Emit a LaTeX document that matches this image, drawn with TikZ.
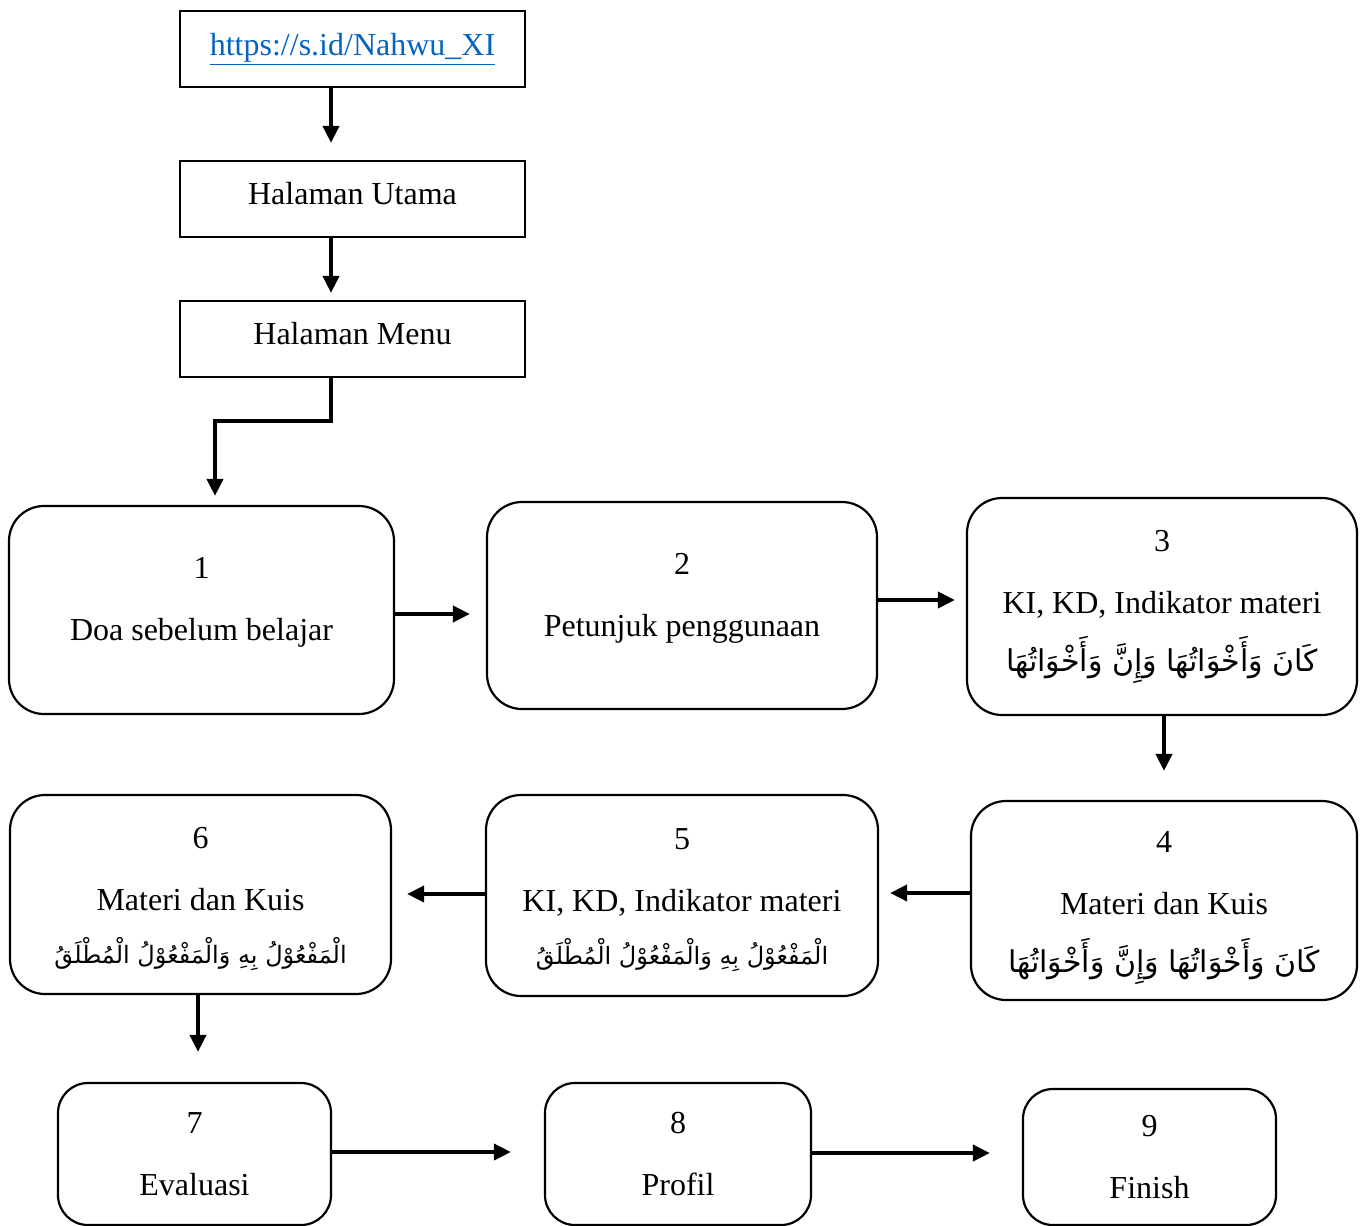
\documentclass[tikz,border=0pt]{standalone}
\usepackage{fontspec}
\setmainfont{Liberation Serif}
\newfontfamily\arabicfont[Script=Arabic]{DejaVu Sans}
\TeXXeTstate=1
\usetikzlibrary{arrows.meta}
\definecolor{linkblue}{HTML}{0563C1}
\newcommand{\arA}[1]{{\arabicfont\fontsize{30}{60}\selectfont\beginR #1\endR}}
\newcommand{\arB}[1]{{\arabicfont\fontsize{24}{60}\selectfont\beginR #1\endR}}
\tikzset{
  sqbox/.style={draw, line width=2.2pt, minimum width=345pt, minimum height=76pt, inner sep=0pt, font=\fontsize{32}{38}\selectfont},
  rbox/.style={draw, line width=2.2pt, rounded corners=35pt, inner sep=0pt, align=center, font=\fontsize{32}{62}\selectfont},
  arr/.style={line width=3.8pt, -{Triangle[length=17pt,width=16pt]}},
}
\begin{document}
\begin{tikzpicture}[x=1pt,y=1pt]
\useasboundingbox (0,0) rectangle (1366,-1226);
% top square boxes
\node[sqbox] (url) at (352.5,-49) {\raisebox{9pt}{\textcolor{linkblue}{\underline{https://s.id/Nahwu\_XI}}}};
\node[sqbox] (utama) at (352.5,-199) {\raisebox{11pt}{Halaman Utama}};
\node[sqbox] (menu) at (352.5,-339) {\raisebox{11pt}{Halaman Menu}};
% rounded boxes
\node[rbox, minimum width=385pt, minimum height=208pt] (b1) at (201.5,-610) {1\\Doa sebelum belajar\\[-40pt]\mbox{}};
\node[rbox, minimum width=390pt, minimum height=207pt] (b2) at (682,-605.5) {2\\Petunjuk penggunaan\\[-40pt]\mbox{}};
\node[rbox, minimum width=390pt, minimum height=217pt] (b3) at (1162,-606.5) {3\\KI, KD, Indikator materi\\[-4pt]\arA{كَانَ وَأَخْوَاتُهَا وَإِنَّ وَأَخْوَاتُهَا}};
\node[rbox, minimum width=386pt, minimum height=199pt] (b4) at (1164,-900.5) {\rule{0pt}{36pt}4\\Materi dan Kuis\\[-4pt]\arA{كَانَ وَأَخْوَاتُهَا وَإِنَّ وَأَخْوَاتُهَا}};
\node[rbox, minimum width=392pt, minimum height=201pt] (b5) at (682,-895.5) {\rule{0pt}{30pt}5\\KI, KD, Indikator materi\\[-9pt]\arB{الْمَفْعُوْلُ بِهِ وَالْمَفْعُوْلُ الْمُطْلَقُ}};
\node[rbox, minimum width=381pt, minimum height=199pt] (b6) at (200.5,-894.5) {\rule{0pt}{31pt}6\\Materi dan Kuis\\[-9pt]\arB{الْمَفْعُوْلُ بِهِ وَالْمَفْعُوْلُ الْمُطْلَقُ}};
\node[rbox, rounded corners=30pt, minimum width=273pt, minimum height=142pt] (b7) at (194.5,-1154) {7\\Evaluasi};
\node[rbox, rounded corners=30pt, minimum width=266pt, minimum height=142pt] (b8) at (678,-1154) {8\\Profil};
\node[rbox, rounded corners=30pt, minimum width=253pt, minimum height=136pt] (b9) at (1149.5,-1157) {9\\Finish};
% connectors
\draw[arr, shorten >=17pt] (url.south -| 331,0) -- (utama.north -| 331,0);
\draw[arr, shorten >=7pt] (utama.south -| 331,0) -- (menu.north -| 331,0);
\coordinate (m1) at (331,-421);
\coordinate (m2) at (215,-421);
\draw[arr, shorten >=9pt] (menu.south -| m1) -- (m1) -- (m2) -- (b1.north -| m2);
\draw[arr, shorten >=16pt] (b1.east |- 0,-614) -- (b2.west |- 0,-614);
\draw[arr, shorten >=11pt] (b2.east |- 0,-600) -- (b3.west |- 0,-600);
\draw[arr, shorten >=29pt] (b3.south -| 1164,0) -- (b4.north -| 1164,0);
\draw[arr, shorten >=11pt] (b4.west |- 0,-893) -- (b5.east |- 0,-893);
\draw[arr, shorten >=15pt] (b5.west |- 0,-894) -- (b6.east |- 0,-894);
\draw[arr, shorten >=30pt] (b6.south -| 198,0) -- (b7.north -| 198,0);
\draw[arr, shorten >=33pt] (b7.east |- 0,-1152) -- (b8.west |- 0,-1152);
\draw[arr, shorten >=32pt] (b8.east |- 0,-1153) -- (b9.west |- 0,-1153);
\end{tikzpicture}
\end{document}
